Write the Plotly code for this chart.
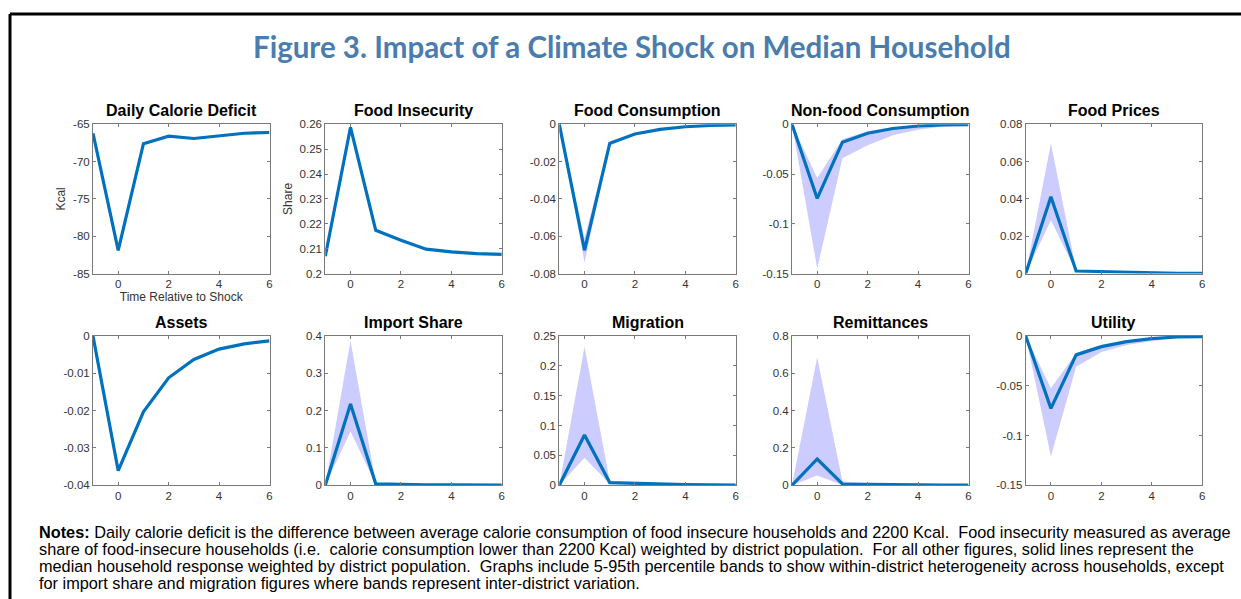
import plotly.graph_objects as go

W, H = 1241, 599

periods = [-1, 0, 1, 2, 3, 4, 5, 6]

calorie = [-66.2, -81.9, -67.6, -66.6, -66.9, -66.5, -66.2, -66.1]
food_insec = [0.2070, 0.2588, 0.2174, 0.2134, 0.2098, 0.2087, 0.2080, 0.2077]
food_cons = [0, -0.0675, -0.0102, -0.0052, -0.0027, -0.0013, -0.0006, -0.0003]
food_cons_lo = [0, -0.0740, -0.0115, -0.0058, -0.0030, -0.0015, -0.0007, -0.0003]
food_cons_hi = [0, -0.0610, -0.0090, -0.0046, -0.0024, -0.0011, -0.0005, -0.0002]
nonfood = [0, -0.0745, -0.0180, -0.0090, -0.0042, -0.0017, -0.0007, -0.0003]
nonfood_lo = [0, -0.145, -0.034, -0.021, -0.011, -0.0055, -0.0022, -0.0008]
nonfood_hi = [0, -0.054, -0.015, -0.007, -0.003, -0.0010, -0.0004, -0.0001]
prices = [0, 0.0412, 0.0014, 0.0010, 0.0006, 0.0004, 0.0002, 0.0001]
prices_lo = [0, 0.0286, 0.0010, 0.0007, 0.0004, 0.0002, 0.0001, 0.0000]
prices_hi = [0, 0.0698, 0.0020, 0.0014, 0.0009, 0.0006, 0.0003, 0.0002]
assets = [0, -0.0361, -0.0203, -0.0112, -0.0063, -0.0035, -0.0021, -0.0013]
import_share = [0, 0.218, 0.004, 0.002, 0.0015, 0.001, 0.0008, 0.0006]
import_lo = [0, 0.144, 0.003, 0.0015, 0.001, 0.0007, 0.0005, 0.0004]
import_hi = [0, 0.387, 0.006, 0.003, 0.002, 0.0014, 0.001, 0.0008]
migration = [0, 0.0843, 0.0045, 0.0030, 0.0020, 0.0012, 0.0008, 0.0005]
migration_lo = [0, 0.046, 0.002, 0.0015, 0.001, 0.0006, 0.0004, 0.0003]
migration_hi = [0, 0.232, 0.007, 0.004, 0.003, 0.002, 0.0012, 0.0008]
remit = [0, 0.141, 0.007, 0.004, 0.003, 0.002, 0.001, 0.001]
remit_lo = [0, 0.052, 0.002, 0.001, 0.001, 0.0005, 0.0003, 0.0002]
remit_hi = [0, 0.686, 0.022, 0.010, 0.006, 0.004, 0.003, 0.002]
utility = [0, -0.0727, -0.0190, -0.0107, -0.0057, -0.0027, -0.0010, -0.0007]
utility_lo = [0, -0.121, -0.031, -0.016, -0.009, -0.005, -0.002, -0.001]
utility_hi = [0, -0.0526, -0.017, -0.009, -0.005, -0.002, -0.0008, -0.0005]

titles = ["Daily Calorie Deficit", "Food Insecurity", "Food Consumption",
          "Non-food Consumption", "Food Prices", "Assets", "Import Share",
          "Migration", "Remittances", "Utility"]
series = [calorie, food_insec, food_cons, nonfood, prices,
          assets, import_share, migration, remit, utility]
bands = [None, None, (food_cons_lo, food_cons_hi), (nonfood_lo, nonfood_hi),
         (prices_lo, prices_hi), None, (import_lo, import_hi),
         (migration_lo, migration_hi), (remit_lo, remit_hi), (utility_lo, utility_hi)]
y_ticks = [
    [-85, -80, -75, -70, -65],
    [0.2, 0.21, 0.22, 0.23, 0.24, 0.25, 0.26],
    [-0.08, -0.06, -0.04, -0.02, 0],
    [-0.15, -0.1, -0.05, 0],
    [0, 0.02, 0.04, 0.06, 0.08],
    [-0.04, -0.03, -0.02, -0.01, 0],
    [0, 0.1, 0.2, 0.3, 0.4],
    [0, 0.05, 0.1, 0.15, 0.2, 0.25],
    [0, 0.2, 0.4, 0.6, 0.8],
    [-0.15, -0.1, -0.05, 0],
]
x_ticks = [0, 2, 4, 6]
y_labels = {0: "Kcal", 1: "Share"}
x_label = "Time Relative to Shock"
title_text = "Figure 3. Impact of a Climate Shock on Median Household"
notes_lines = [
    "<b>Notes:</b> Daily calorie deficit is the difference between average calorie consumption of food insecure households and 2200 Kcal.  Food insecurity measured as average",
    "share of food-insecure households (i.e.  calorie consumption lower than 2200 Kcal) weighted by district population.  For all other figures, solid lines represent the",
    "median household response weighted by district population.  Graphs include 5-95th percentile bands to show within-district heterogeneity across households, except",
    "for import share and migration figures where bands represent inter-district variation.",
]

col_left = [93, 325.3, 559.3, 792, 1025.7]
col_w = 176.5
row_top = [124.3, 336]
row_h = 149.3

LINE = "#0072BD"
BAND = "rgb(204,204,255)"
AXC = "#7a7a7a"
FONT = "Liberation Sans, Arial, sans-serif"


def px(xp):
    return xp / W


def py(yp):
    return 1 - yp / H


fig = go.Figure()
layout = dict(
    width=W, height=H,
    margin=dict(l=0, r=0, t=0, b=0, pad=0, autoexpand=False),
    paper_bgcolor="white", plot_bgcolor="white", showlegend=False,
    annotations=[], shapes=[],
)


def fmt(v):
    return f"{v:g}"


for i in range(10):
    r, c = divmod(i, 5)
    n = i + 1
    xa = "xaxis" if n == 1 else f"xaxis{n}"
    ya = "yaxis" if n == 1 else f"yaxis{n}"
    xr = "x" if n == 1 else f"x{n}"
    yr = "y" if n == 1 else f"y{n}"
    x0 = px(col_left[c])
    x1 = px(col_left[c] + col_w)
    y1 = py(row_top[r])
    y0 = py(row_top[r] + row_h)
    yt = y_ticks[i]
    layout[xa] = dict(
        domain=[x0, x1], anchor=yr, range=[-1, 6], tickvals=x_ticks,
        ticktext=[fmt(v) for v in x_ticks], ticks="inside", ticklen=3,
        tickcolor=AXC, showline=True, linecolor=AXC, linewidth=1,
        mirror="ticks", showgrid=False, zeroline=False, automargin=False,
        tickfont=dict(family=FONT, size=11.5, color="#333333"),
    )
    layout[ya] = dict(
        domain=[y0, y1], anchor=xr, range=[yt[0], yt[-1]], tickvals=yt,
        ticktext=[fmt(v) for v in yt], ticks="inside", ticklen=3,
        tickcolor=AXC, showline=True, linecolor=AXC, linewidth=1,
        mirror="ticks", showgrid=False, zeroline=False, automargin=False,
        tickfont=dict(family=FONT, size=11.5, color="#333333"),
    )
    if i in y_labels:
        layout[ya]["title"] = dict(text=y_labels[i], standoff=4,
                                   font=dict(family=FONT, size=12, color="#333333"))
    if i == 0:
        layout[xa]["title"] = dict(text=x_label, standoff=2,
                                   font=dict(family=FONT, size=12, color="#333333"))
    if bands[i] is not None:
        lo, hi = bands[i]
        fig.add_trace(go.Scatter(x=periods, y=lo, mode="lines", line=dict(width=0),
                                 xaxis=xr, yaxis=yr, hoverinfo="skip"))
        fig.add_trace(go.Scatter(x=periods, y=hi, mode="lines", line=dict(width=0),
                                 fill="tonexty", fillcolor=BAND,
                                 xaxis=xr, yaxis=yr, hoverinfo="skip"))
    fig.add_trace(go.Scatter(x=periods, y=series[i], mode="lines",
                             line=dict(color=LINE, width=3.2),
                             xaxis=xr, yaxis=yr))
    layout["annotations"].append(dict(
        text=f"<b>{titles[i]}</b>", xref="paper", yref="paper",
        x=(x0 + x1) / 2, y=py(row_top[r] - 14), xanchor="center", yanchor="middle",
        showarrow=False, font=dict(family=FONT, size=16, color="black"),
    ))

layout["annotations"].append(dict(
    text=f"<b>{title_text}</b>", xref="paper", yref="paper",
    x=px(632), y=py(46), xanchor="center", yanchor="middle", showarrow=False,
    font=dict(family="Lato, sans-serif", size=29.5, color="#4A7DAE"),
))

note_y = [531.5, 548.5, 565.5, 582.5]
for txt, yy in zip(notes_lines, note_y):
    layout["annotations"].append(dict(
        text=txt, xref="paper", yref="paper", x=px(37), y=py(yy),
        xanchor="left", yanchor="middle", showarrow=False,
        font=dict(family=FONT, size=16.3, color="black"),
    ))

layout["shapes"] = [
    dict(type="line", xref="paper", yref="paper", x0=px(10), x1=1.02,
         y0=py(14), y1=py(14), line=dict(color="black", width=3)),
    dict(type="line", xref="paper", yref="paper", x0=px(10), x1=px(10),
         y0=py(14), y1=-0.03, line=dict(color="black", width=3)),
]

fig.update_layout(**layout)
fig.write_html(
    "out.html",
    config={"displayModeBar": False},
    post_script="document.body.style.margin='0';document.body.style.overflow='hidden';",
)
